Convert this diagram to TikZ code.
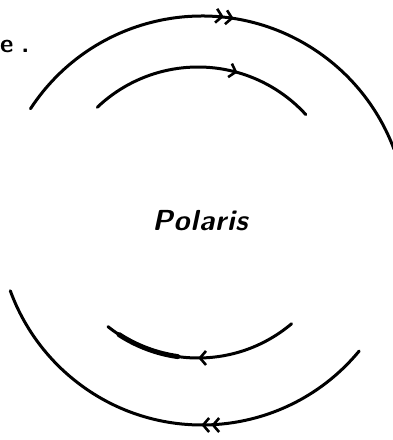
\documentclass[tikz,border=0pt]{standalone}
\usetikzlibrary{arrows.meta,decorations.markings}
\tikzset{
  orbit/.style={line width=3pt, line cap=round},
  onearrow/.style={postaction={decorate},
    decoration={markings, mark=at position #1 with {\arrow[line width=2.6pt]{Straight Barb[length=6pt,width=14pt]}}}},
  twoarrow/.style={postaction={decorate},
    decoration={markings, mark=at position #1 with {\arrow[line width=2.6pt]{Straight Barb[length=6pt,width=14pt,sep=1pt]Straight Barb[length=6pt,width=14pt]}}}},
}
\begin{document}
\begin{tikzpicture}[x=1pt,y=1pt]
\useasboundingbox (0,0) rectangle (393,440);
\coordinate (co) at (202,219);
\coordinate (ci) at (198,227);
% partial text at top-left edge
\node[anchor=west, inner sep=0pt, font=\fontsize{26}{26}\selectfont\sffamily\bfseries] (cut) at (0,394) {e\hspace{8pt}.};
% central label
\node[font=\fontsize{29}{29}\selectfont\sffamily\bfseries\itshape] (polaris) at (200,219) {P\kern1pt o\kern1pt l\kern1pt a\kern1pt r\kern1pt i\kern1pt s};
% outer top arc
\draw[orbit, twoarrow=0.52] (co) ++(146.8:205) arc[start angle=146.8, end angle=20.5, radius=205];
% inner top arc
\draw[orbit, onearrow=0.65] (ci) ++(133.6:146) arc[start angle=133.6, end angle=42.4, radius=146];
% outer bottom arc
\draw[orbit, twoarrow=0.42] (co) ++(320.4:204) arc[start angle=320.4, end angle=200, radius=204];
% inner bottom arc
\draw[orbit, onearrow=0.51] (ci) ++(310.2:145) arc[start angle=310.2, end angle=231.6, radius=145];
\draw[line width=5pt, line cap=round] (ci) ++(262:145) arc[start angle=262, end angle=237, radius=145];
\end{tikzpicture}
\end{document}
